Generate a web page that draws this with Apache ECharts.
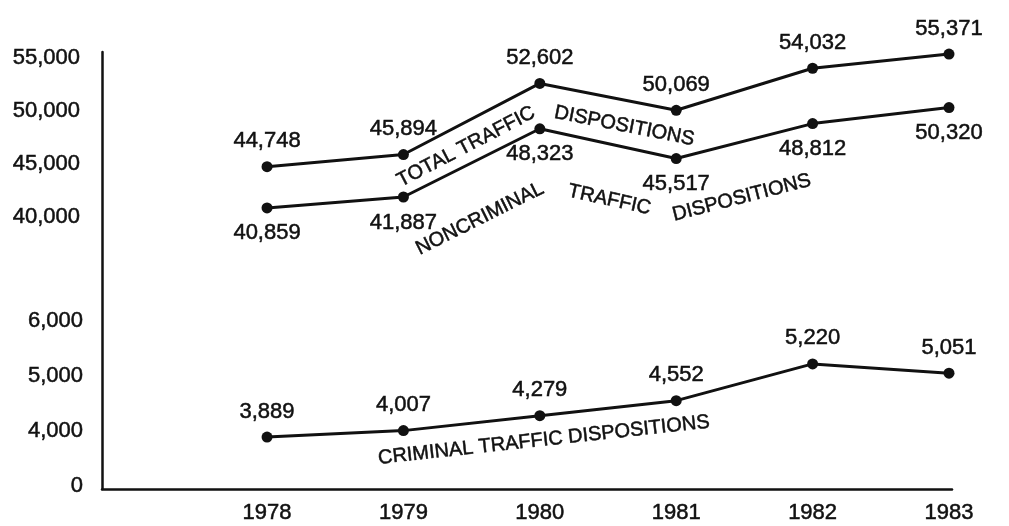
<!DOCTYPE html>
<html>
<head>
<meta charset="utf-8">
<script src="https://cdn.jsdelivr.net/npm/echarts@6/dist/echarts.min.js"></script>
<style>
    html, body { margin: 0; padding: 0; background: #fff; }
    #main { width: 1009px; height: 526px; }
</style>
</head>
<body>
<div id="main"></div>
<script>
// chart data
var years = [1978, 1979, 1980, 1981, 1982, 1983];
var totalDispositions = [44748, 45894, 52602, 50069, 54032, 55371];
var noncriminalDispositions = [40859, 41887, 48323, 45517, 48812, 50320];
var criminalDispositions = [3889, 4007, 4279, 4552, 5220, 5051];

// tick labels (the lower scale is broken: its bottom tick stands for 0)
var upperTicks = [40000, 45000, 50000, 55000];
var lowerTicks = [3000, 4000, 5000, 6000];
var lowerTickText = ['0', '4,000', '5,000', '6,000'];

var ink = '#111';
var fontFamily = 'Liberation Sans, Arial, sans-serif';

var fmt = function (v) {
    return String(v).replace(/\B(?=(\d{3})+(?!\d))/g, ',');
}

var pairs = function (vals) {
    return years.map(function (y, i) { return [y, vals[i]]; });
}

// shared text look, a touch heavier like the printed original
var textStyle = {
    color: ink,
    fontSize: 22,
    fontFamily: fontFamily,
    textBorderColor: ink,
    textBorderWidth: 0.5
};

var lineSeries = function (name, vals, yIndex, labelPos) {
    return {
        name: name,
        type: 'line',
        yAxisIndex: yIndex,
        data: pairs(vals),
        symbol: 'circle',
        symbolSize: 11,
        lineStyle: { color: ink, width: 3 },
        itemStyle: { color: ink },
        label: Object.assign({
            show: true,
            position: labelPos,
            distance: 9,
            formatter: function (p) { return fmt(p.value[1]); }
        }, textStyle)
    };
}

var chartDom = document.getElementById('main');
var myChart = echarts.init(chartDom);
var option = {
    animation: false,
    backgroundColor: '#fff',
    grid: { left: 102, top: 52, width: 850, height: 437 },
    xAxis: {
        type: 'value',
        min: 1976.79,
        max: 1983.022,
        splitLine: { show: false },
        axisTick: { show: false },
        axisLine: { show: true, lineStyle: { color: ink, width: 2.5 } },
        axisLabel: Object.assign({
            customValues: years,
            margin: 13,
            formatter: function (v) { return String(v); }
        }, textStyle)
    },
    yAxis: [
        {
            type: 'value',
            min: 14340,
            max: 55566,
            splitLine: { show: false },
            axisTick: { show: false },
            axisLine: { show: true, lineStyle: { color: ink, width: 2.5 } },
            axisLabel: Object.assign({
                customValues: upperTicks,
                margin: 22,
                formatter: function (v) { return fmt(v); }
            }, textStyle)
        },
        {
            type: 'value',
            position: 'left',
            min: 2945.5,
            max: 10891,
            splitLine: { show: false },
            axisTick: { show: false },
            axisLine: { show: false },
            axisLabel: Object.assign({
                customValues: lowerTicks,
                margin: 19,
                formatter: function (v) { return lowerTickText[lowerTicks.indexOf(v)]; }
            }, textStyle)
        }
    ],
    series: [
        lineSeries('Total traffic dispositions', totalDispositions, 0, 'top'),
        lineSeries('Noncriminal traffic dispositions', noncriminalDispositions, 0, 'bottom'),
        lineSeries('Criminal traffic dispositions', criminalDispositions, 1, 'top')
    ]
};
myChart.setOption(option);

// line captions: slope taken from the line between "from" and "to",
// centre placed "off" pixels below the line at year "at"
var captions = [
    { text: 'TOTAL TRAFFIC', series: 0, from: 1979, to: 1980, at: 1979.46, off: 25 },
    { text: 'DISPOSITIONS', series: 0, from: 1980, to: 1981, at: 1980.62, off: 26 },
    { text: 'NONCRIMINAL', series: 1, from: 1979, to: 1980, at: 1979.56, off: 60 },
    { text: 'TRAFFIC', series: 1, from: 1980, to: 1981, at: 1980.51, off: 56 },
    { text: 'DISPOSITIONS', series: 1, from: 1981, to: 1982, at: 1981.48, off: 56 },
    { text: 'CRIMINAL TRAFFIC DISPOSITIONS', series: 2, from: 1979, to: 1981, at: 1980.03, off: 25 }
];
var seriesVals = [totalDispositions, noncriminalDispositions, criminalDispositions];

var pixelAt = function (s, year) {
    var vals = seriesVals[s];
    var i = Math.min(Math.floor(year - years[0]), years.length - 2);
    var t = year - years[i];
    var a = myChart.convertToPixel({ seriesIndex: s }, [years[i], vals[i]]);
    var b = myChart.convertToPixel({ seriesIndex: s }, [years[i + 1], vals[i + 1]]);
    return [a[0] + (b[0] - a[0]) * t, a[1] + (b[1] - a[1]) * t];
}

var graphics = captions.map(function (c) {
    var a = pixelAt(c.series, c.from);
    var b = pixelAt(c.series, c.to);
    var base = pixelAt(c.series, c.at);
    return {
        type: 'text',
        x: base[0],
        y: base[1] + c.off,
        rotation: Math.atan2(a[1] - b[1], b[0] - a[0]),
        style: {
            text: c.text,
            fill: ink,
            stroke: ink,
            lineWidth: 0.5,
            fontSize: 20,
            fontFamily: fontFamily,
            align: 'center',
            verticalAlign: 'middle'
        }
    };
});
myChart.setOption({ graphic: graphics });
</script>
</body>
</html>
